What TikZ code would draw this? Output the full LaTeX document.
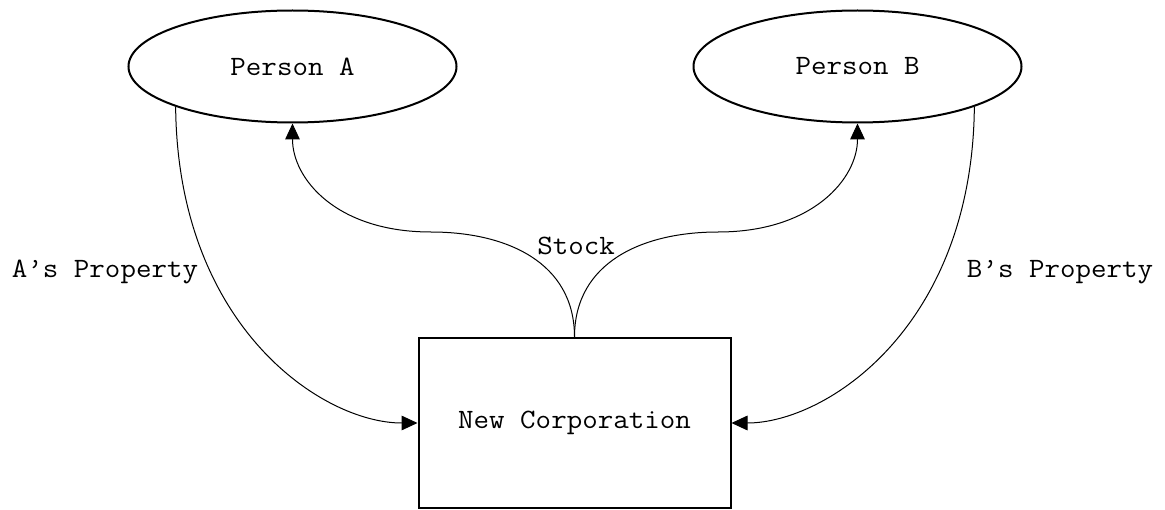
\documentclass[tikz,border=0pt]{standalone}
\usepackage{fontspec}
\setmonofont[FakeStretch=1.075]{Latin Modern Mono}
\usetikzlibrary{shapes.geometric,arrows.meta}
\begin{document}
\begin{tikzpicture}[x=0.75pt,y=-0.75pt,
  every node/.style={font=\ttfamily\fontsize{21}{25}\selectfont},
  person/.style={draw,ellipse,line width=1.5pt,minimum width=328*0.75pt,minimum height=112*0.75pt,inner sep=0pt},
  corp/.style={draw,rectangle,line width=1.5pt,minimum width=312*0.75pt,minimum height=170*0.75pt,inner sep=0pt},
  conn/.style={line width=0.75pt,-{Triangle[length=12pt,width=11pt]}},
  lbl/.style={inner sep=0pt}]
\useasboundingbox (0,0) rectangle (1165,510);
\node[person] (pa) at (292.5,66.5) {Person A};
\node[person] (pb) at (857.5,66.5) {Person B};
\node[corp] (nc) at (574.5,423) {New Corporation};
\coordinate (sa) at (431,232);
\coordinate (sb) at (718,232);
\draw[conn] (pa.199) .. controls +(2,220) and +(-95,0) .. (nc.west);
\draw[conn] (pb.341) .. controls +(-2,220) and +(95,0) .. (nc.east);
\draw[line width=0.75pt] (nc.north) .. controls +(0,-75) and +(75,0) .. (sa);
\draw[conn] (sa) .. controls +(-95,0) and +(0,55) .. (pa.south);
\draw[line width=0.75pt] (nc.north) .. controls +(0,-75) and +(-75,0) .. (sb);
\draw[conn] (sb) .. controls +(95,0) and +(0,55) .. (pb.south);
\node[lbl] (la) at (105,272) {A’s Property};
\node[lbl] (lb) at (1060,272) {B’s Property};
\node[lbl] (ls) at (576,246) {Stock};
\end{tikzpicture}
\end{document}
